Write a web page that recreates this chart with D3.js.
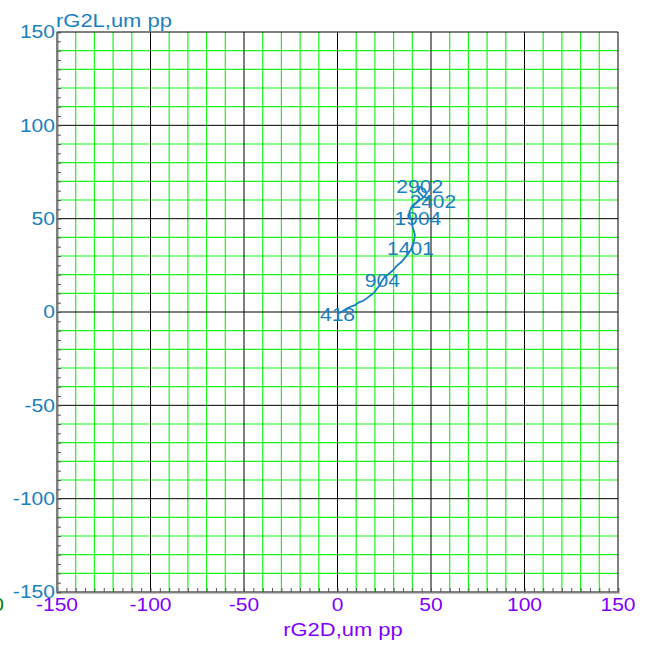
<!DOCTYPE html>
<html><head><meta charset="utf-8">
<script src="https://cdn.jsdelivr.net/npm/d3@7"></script>
<style>body{margin:0;background:#fff}svg{display:block}text{font-family:"Liberation Sans",Arial,sans-serif}</style>
</head><body>
<script>
const xTicks = [-150,-100,-50,0,50,100,150];
const yTicks = [-150,-100,-50,0,50,100,150];
const xTitle = "rG2D,um pp";
const yTitle = "rG2L,um pp";
const traceX = [0.5,1.3,3.5,5.2,7.8,9.4,11.5,13.8,15.6,17.2,18.6,20.0,21.0,22.7,23.6,25.4,27.2,29.8,31.5,34.3,36.0,37.9,39.3,40.5,41.0,41.4,40.8,40.2,39.9,39.7,38.8,38.4,39.5,41.2,44.0,46.2,47.7,46.5,44.0,43.2,45.5,48.6,47.0];
const traceY = [-0.8,-0.4,0.9,2.0,3.2,3.7,5.2,6.0,7.3,8.6,9.5,10.9,12.4,14.4,16.5,18.9,20.2,22.5,24.6,26.9,29.0,31.4,33.5,36.7,38.8,41.2,43.4,45.6,47.5,49.2,51.0,53.6,55.8,57.5,60.0,61.5,63.5,65.8,67.0,64.5,62.0,60.8,59.5];
const markLabels = ["418","904","1401","1904","2402","2902"];
const markX = [0,24,39,43,51,44];
const markY = [-1.5,17,34,50,59,67];

const W=649,H=646, SX=1.17, ST=1.22;
const svg=d3.select("body").append("svg").attr("width",W).attr("height",H);
const x=d3.scaleLinear().domain([-150,150]).range([57,618]);
const y=d3.scaleLinear().domain([-150,150]).range([592,32]);
const grid=d3.range(-150,151,10);
const g=svg.append("g");
g.selectAll(".gx").data(grid.filter(v=>v%50!==0)).enter().append("line")
 .attr("x1",d=>x(d)).attr("x2",d=>x(d)).attr("y1",y(150)).attr("y2",y(-150)).attr("stroke","#1cf51c").attr("stroke-width",1.2);
g.selectAll(".gy").data(grid.filter(v=>v%50!==0)).enter().append("line")
 .attr("y1",d=>y(d)).attr("y2",d=>y(d)).attr("x1",x(-150)).attr("x2",x(150)).attr("stroke","#1cf51c").attr("stroke-width",1.2);
g.selectAll(".bx").data(xTicks).enter().append("line")
 .attr("x1",d=>x(d)).attr("x2",d=>x(d)).attr("y1",y(150)).attr("y2",y(-150)).attr("stroke","#000").attr("stroke-width",1);
g.selectAll(".by").data(yTicks).enter().append("line")
 .attr("y1",d=>y(d)).attr("y2",d=>y(d)).attr("x1",x(-150)).attr("x2",x(150)).attr("stroke","#000").attr("stroke-width",1);
const minor=d3.range(-150,151,5);
const xAxis=d3.axisBottom(x).tickValues(minor).tickSize(-4).tickFormat("");
const yAxis=d3.axisLeft(y).tickValues(minor).tickSize(-4).tickFormat("");
const ax=svg.append("g").attr("transform",`translate(0,${y(-150)})`).call(xAxis);
const ay=svg.append("g").attr("transform",`translate(${x(-150)},0)`).call(yAxis);
[ax,ay].forEach(a=>{a.select(".domain").attr("stroke","#808080").attr("stroke-width",2);a.selectAll(".tick line").attr("stroke","#555");});

function txt(sel, tx, ty, sx){
  return sel.attr("transform",(d,i)=>`translate(${tx(d,i)},${ty(d,i)}) scale(${sx},1)`).attr("font-size",18);
}
txt(svg.selectAll(".yl").data(yTicks).enter().append("text"), ()=>55, d=>y(d), SX)
 .attr("dy","0.35em").attr("text-anchor","end").attr("fill","#1a80c0").text(d=>d);
txt(svg.selectAll(".xl").data(xTicks).enter().append("text"), d=>x(d), ()=>611, SX)
 .attr("text-anchor","middle").attr("fill","#8000ff").text(d=>d);
txt(svg.append("text").datum(0), ()=>-2, ()=>611, SX).attr("text-anchor","middle").attr("fill","#008000").text("0");
txt(svg.append("text").datum(0), ()=>56, ()=>27, ST).attr("fill","#1a80c0").text(yTitle);
txt(svg.append("text").datum(0), ()=>343, ()=>636, ST).attr("text-anchor","middle").attr("fill","#8000ff").text(xTitle);

const pts=traceX.map((v,i)=>[v,traceY[i]]);
svg.append("path").attr("d",d3.line().x(d=>x(d[0])).y(d=>y(d[1]))(pts))
 .attr("fill","none").attr("stroke","#1a80c0").attr("stroke-width",1.8);
txt(svg.selectAll(".ml").data(markLabels).enter().append("text"), (d,i)=>x(markX[i]), (d,i)=>y(markY[i]), SX)
 .attr("dy","0.35em").attr("text-anchor","middle").attr("fill","#1a80c0").text(d=>d);
</script>
</body></html>
